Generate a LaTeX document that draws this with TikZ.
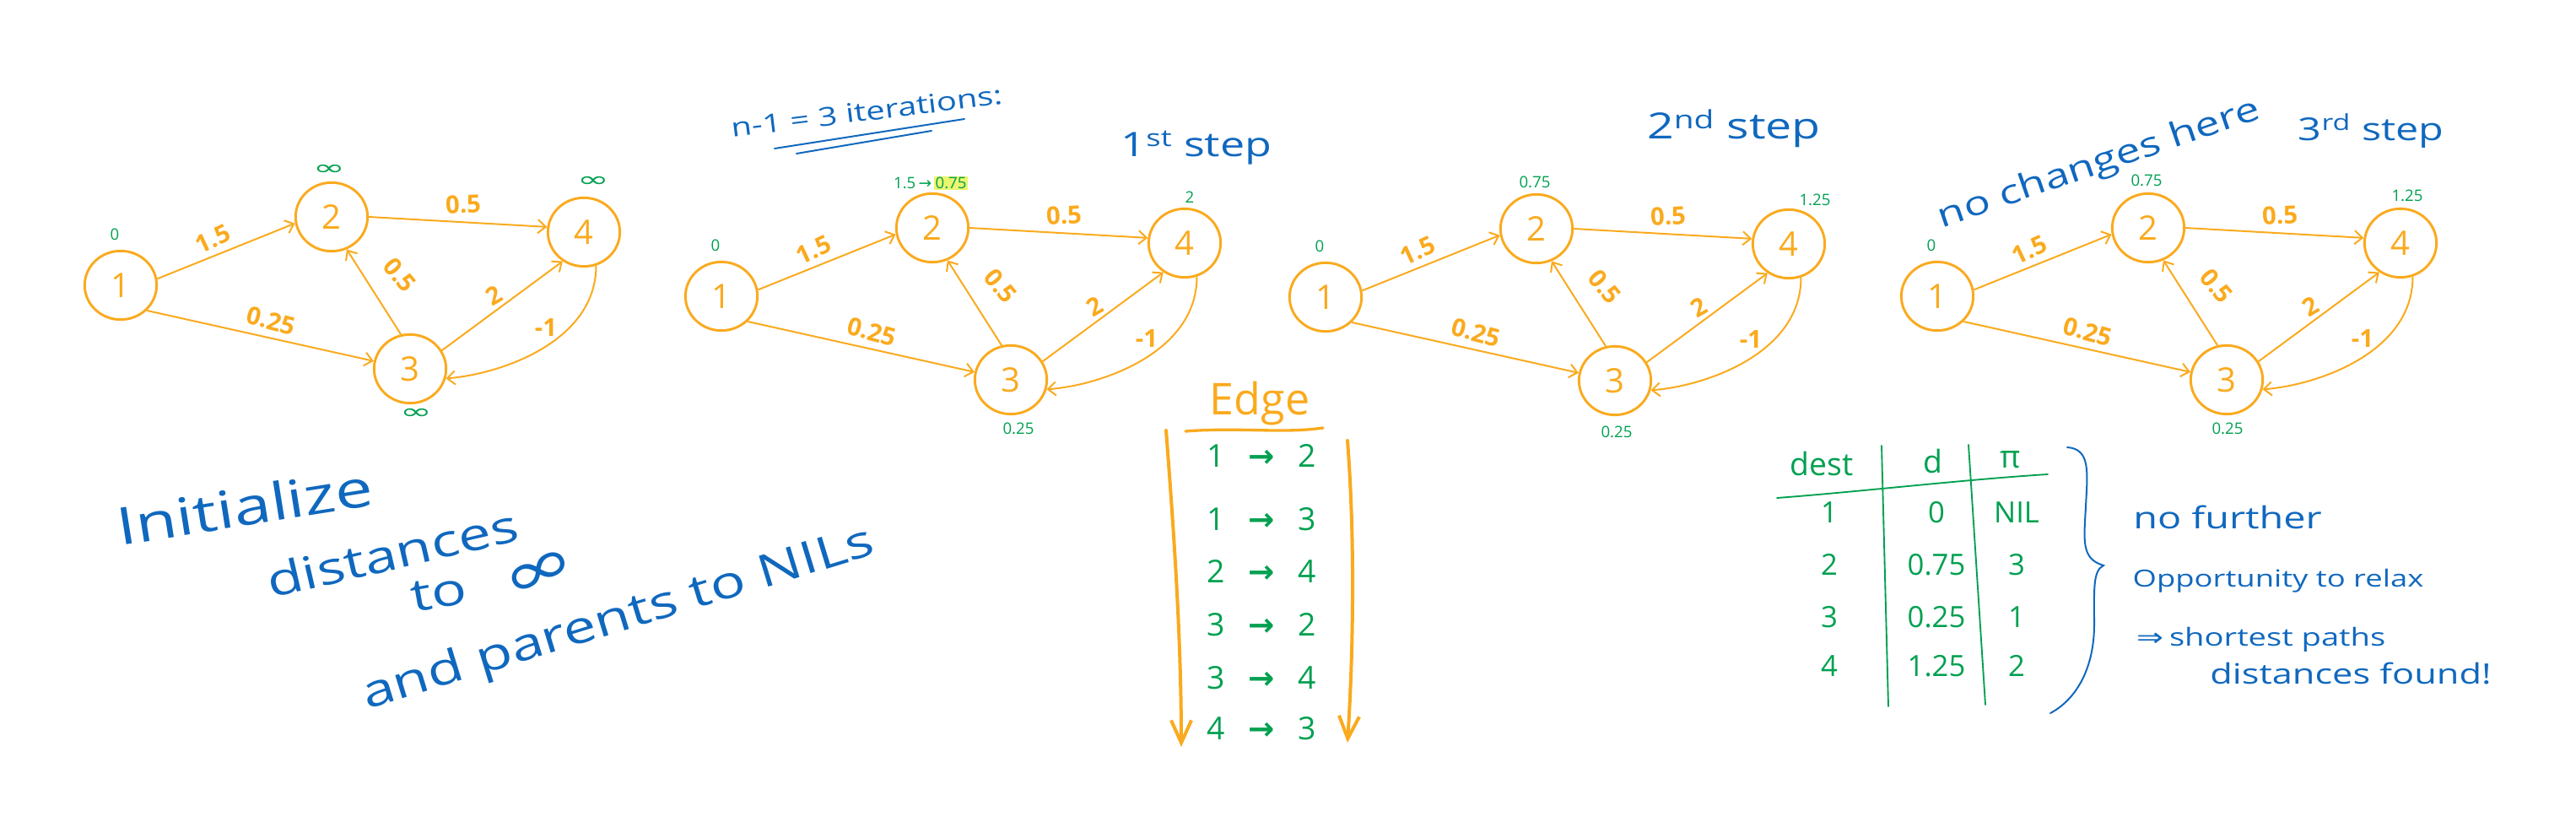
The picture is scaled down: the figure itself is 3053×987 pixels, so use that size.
\documentclass[tikz,border=0pt]{standalone}
\usepackage{fontspec}
\setmainfont{Open Sans}
\newfontfamily\symfont{DejaVu Sans}
\usepackage{tikz}
\usetikzlibrary{arrows.meta,shapes.geometric}
\definecolor{bforange}{RGB}{250,170,30}
\definecolor{bfgreen}{RGB}{0,160,80}
\definecolor{inkblue}{RGB}{16,104,190}
\definecolor{hilite}{RGB}{235,245,110}

\begin{document}
\begin{tikzpicture}[x=0.75pt,y=0.75pt,yscale=-1,xscale=1,
	vert/.style={ellipse,draw=bforange,line width=2.2pt,minimum width=64pt,minimum height=61pt,inner sep=0pt,text=bforange,font=\fontsize{30}{30}\selectfont},
	edge/.style={draw=bforange,line width=1.5pt,-{Straight Barb[length=7pt,width=12pt]}},
	wt/.style={text=bforange,inner sep=0pt,font=\bfseries\fontsize{22}{22}\selectfont},
	dist/.style={text=bfgreen,inner sep=0pt,font=\fontsize{14}{14}\selectfont},
	inf/.style={text=bfgreen,inner sep=0pt,yscale=.55,font=\symfont\fontsize{34}{34}\selectfont},
	hand/.style={text=inkblue,inner sep=0pt,xscale=1.3},
	ink/.style={draw=inkblue,line width=1.5pt,line cap=round},
	tab/.style={text=bfgreen,inner sep=0pt,font=\fontsize{26}{26}\selectfont},
	tabline/.style={draw=bfgreen,line width=1.4pt,line cap=round},
	order/.style={draw=bforange,line width=3pt,line cap=round,-{Straight Barb[length=20pt,width=18pt]}}]
	\useasboundingbox (0,0) rectangle (3053,987);
	
	%the four copies of the graph
	\foreach \g/\dx/\dy in {a/0/0,b/712/13,c/1428/14,d/2153/13}{
	\begin{scope}[shift={(\dx,\dy)}]
		\node[vert] (\g1) at (143,338) {1};
		\node[vert] (\g2) at (393,257) {2};
		\node[vert] (\g3) at (486,437) {3};
		\node[vert] (\g4) at (692,275) {4};
		\draw[edge] (\g1.10) -- (\g2.190);
		\draw[edge] (\g1.-44) -- (\g3.168);
		\draw[edge] (\g2.0) -- (\g4.172);
		\draw[edge] (\g3.105) -- (\g2.-65);
		\draw[edge] (\g3.30) -- (\g4.-126);
		\draw[edge] (\g4.-70) .. controls +(0,90) and +(65,-5) .. (\g3.-15);
		\node[wt,rotate=25] (\g-w12) at (252,283) {1.5};
		\node[wt,rotate=3] (\g-w24) at (549,242) {0.5};
		\node[wt,rotate=-50] (\g-w32) at (474,326) {0.5};
		\node[wt,rotate=-15] (\g-w13) at (321,380) {0.25};
		\node[wt,rotate=30] (\g-w34) at (585,350) {2};
		\node[wt] (\g-w43) at (647,388) {-1};
		\node[dist] (\g-d1) at (136,278) {0};
	\end{scope}
	}
	
	\node[inf] (a-d2) at (390,201) {∞};
	\node[inf] (a-d4) at (703,215) {∞};
	\node[inf] (a-d3) at (493,490) {∞};
	\node[dist] (b-d2) at (1103,217) {1.5\,{\symfont →}\,{\setlength{\fboxsep}{1pt}\colorbox{hilite}{0.75}}};
	\node[dist] (b-d4) at (1410,234) {2};
	\node[dist] (b-d3) at (1207,508) {0.25};
	\node[dist] (c-d2) at (1819,216) {0.75};
	\node[dist] (c-d4) at (2151,237) {1.25};
	\node[dist] (c-d3) at (1916,512) {0.25};
	\node[dist] (d-d2) at (2544,214) {0.75};
	\node[dist] (d-d4) at (2853,232) {1.25};
	\node[dist] (d-d3) at (2640,508) {0.25};
	
	\node[rotate=7,hand,font=\fontsize{23}{23}\selectfont] (iters) at (1027,132) {n-1 = 3 iterations:};
	\draw[ink] (918,176) -- (1143,141);
	\draw[ink] (944,182) -- (1104,155);
	\node[hand,font=\fontsize{30}{30}\selectfont] (step1) at (1418,175) {1\textsuperscript{st} step};
	\node[hand,font=\fontsize{32}{32}\selectfont] (step2) at (2055,152) {2\textsuperscript{nd} step};
	\node[rotate=19,hand,font=\fontsize{30}{30}\selectfont] (nochg) at (2488,195) {no changes here};
	\node[hand,font=\fontsize{28}{28}\selectfont] (step3) at (2810,155) {3\textsuperscript{rd} step};
	
	\node[rotate=9,hand,font=\fontsize{46}{46}\selectfont] (init) at (290,600) {Initialize};
	\node[rotate=13,hand,font=\fontsize{40}{40}\selectfont] (dists) at (465,655) {distances};
	\node[rotate=10,hand,font=\fontsize{40}{40}\selectfont] (to) at (520,703) {to};
	\node[rotate=25,text=inkblue,inner sep=0pt,yscale=.7,font=\symfont\fontsize{80}{80}\selectfont] (infty) at (640,680) {∞};
	\node[rotate=17,hand,font=\fontsize{40}{40}\selectfont] (parents) at (733,735) {and parents to NILs};
	
	%edge order
	\node[text=bforange,inner sep=0pt,font=\fontsize{39}{39}\selectfont] (edgehd) at (1493,478) {Edge};
	\draw[draw=bforange,line width=2.5pt,line cap=round] (1405,511) .. controls (1470,506) and (1520,514) .. (1568,507);
	\foreach \i/\y/\s/\t in {1/540/1/2,2/615/1/3,3/677/2/4,4/740/3/2,5/803/3/4,6/863/4/3}{
		\node[tab,font=\fontsize{28}{28}\selectfont] (e\i) at (1495,\y) {\s\hspace{.75em}{\symfont\bfseries →}\hspace{.75em}\t};
	}
	\coordinate (ltop) at (1382,510);
	\coordinate (lbot) at (1400,885);
	\coordinate (rtop) at (1597,522);
	\coordinate (rbot) at (1597,880);
	\draw[order] (ltop) .. controls (1392,640) and (1400,760) .. (lbot);
	\draw[order] (rtop) .. controls (1606,640) and (1604,770) .. (rbot);
	
	%final table
	\node[tab,font=\fontsize{28}{28}\selectfont] (hdest) at (2159,549) {dest};
	\node[tab,font=\fontsize{28}{28}\selectfont] (hd) at (2291,546) {d};
	\node[tab,font=\fontsize{28}{28}\selectfont] (hpi) at (2383,545) {π};
	\draw[tabline] (2106,590) .. controls (2200,583) and (2330,568) .. (2427,562);
	\draw[tabline] (2230,528) -- (2238,837);
	\draw[tabline] (2333,527) -- (2353,835);
	\foreach \r/\y/\p/\q/\s in {1/607/1/0/NIL,2/669/2/0.75/3,3/731/3/0.25/1,4/789/4/1.25/2}{
		\node[tab] (dest\r) at (2168,\y) {\p};
		\node[tab] (d\r) at (2295,\y) {\q};
		\node[tab] (pi\r) at (2390,\y) {\s};
	}
	\draw[ink] (2450,530) .. controls (2478,532) and (2474,560) .. (2472,600) .. controls (2470,640) and (2466,662) .. (2493,670) .. controls (2480,676) and (2482,700) .. (2482,740) .. controls (2482,790) and (2462,828) .. (2430,845);
	\node[hand,font=\fontsize{27}{27}\selectfont] (further) at (2640,613) {no further};
	\node[hand,font=\fontsize{21}{21}\selectfont] (relax) at (2700,688) {Opportunity to relax};
	\node[hand,font=\fontsize{22}{22}\selectfont] (paths) at (2680,758) {{\symfont ⇒}\,shortest paths};
	\node[hand,font=\fontsize{25}{25}\selectfont] (found) at (2786,798) {distances found!};
	
\end{tikzpicture}
\end{document}
